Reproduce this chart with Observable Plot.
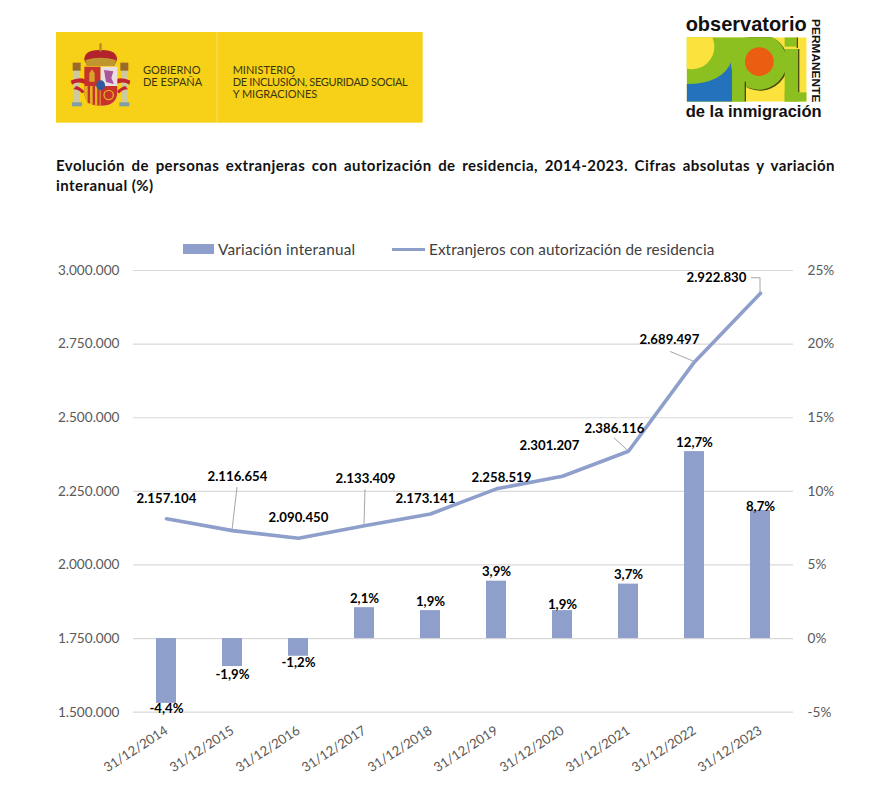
<!DOCTYPE html>
<html lang="es">
<head>
<meta charset="utf-8">
<script src="https://cdn.jsdelivr.net/npm/d3@7"></script>
<script src="https://cdn.jsdelivr.net/npm/@observablehq/plot@0.6"></script>
<style>
html,body{margin:0;padding:0;background:#fff}
body{width:887px;height:797px;overflow:hidden;position:relative;font-family:Lato,"Open Sans",sans-serif}
#head{position:relative;height:260px}
#head>*{position:absolute}
#title{left:56px;top:155px;width:779px;font-size:15px;line-height:20px;font-weight:700;color:#111;letter-spacing:.45px}
#title div{text-align:justify;text-align-last:justify}
#title div+div{text-align-last:left}
.lg{font-size:15.3px;color:#404040;top:240px;line-height:18px;white-space:nowrap;letter-spacing:.08px}
#chart svg{display:block}
</style>
</head>
<body>
<div id="head">
<svg style="left:40px;top:10px" width="400" height="125" viewBox="0 0 1200 375">
  <rect x="48" y="66" width="1100" height="272" fill="#f6d117"/>
  <rect x="529" y="66" width="4" height="272" fill="#f9dc55"/>
  <g>
    <rect x="102" y="175" width="16" height="112" fill="#cfc9a0"/>
    <rect x="245" y="175" width="16" height="112" fill="#cfc9a0"/>
    <rect x="98" y="158" width="24" height="24" fill="#9b6a2a"/>
    <rect x="241" y="158" width="24" height="24" fill="#9b6a2a"/>
    <rect x="96" y="277" width="30" height="12" fill="#7f9ea6"/>
    <rect x="238" y="277" width="30" height="12" fill="#7f9ea6"/>
    <path d="M92 212Q130 198 136 212L136 222Q112 212 96 224ZM108 228Q124 232 134 246L126 250Q116 238 100 238Z" fill="#c2262c"/>
    <path d="M271 212Q233 198 228 212L228 222Q252 212 268 224ZM256 228Q240 232 230 246L238 250Q248 238 264 238Z" fill="#c2262c"/>
    <path d="M133 150Q132 118 182 120Q232 118 231 150L222 168L142 168Z" fill="#b3232b"/>
    <path d="M136 150Q182 136 228 150L224 168L140 168Z" fill="#c0962f"/>
    <rect x="178" y="100" width="7" height="24" fill="#b58a2c"/>
    <path d="M133 170H182V287Q133 287 133 245Z" fill="#c8322d"/>
    <path d="M182 170H232V245Q232 287 182 287Z" fill="#e9dfe0"/>
    <path d="M133 228H182V287Q133 287 133 245Z" fill="#e3b11f"/>
    <path d="M143 228h7v52h-7zM158 228h7v56h-7zM172 228h7v58h-7z" fill="#c8322d"/>
    <path d="M182 228H232V245Q232 287 182 287Z" fill="#c8322d"/>
    <path d="M148 215V190L156 178L164 190V215Z" fill="#d8a32b"/>
    <path d="M192 180L220 184L214 204L222 222L198 216Z" fill="#a9549b"/>
    <circle cx="206" cy="255" r="14" fill="none" stroke="#e3b11f" stroke-width="4"/>
    <ellipse cx="182" cy="226" rx="13" ry="15" fill="#2f5a9e"/>
  </g>
  <g font-family="Lato,'Open Sans',sans-serif" fill="#3b3510" font-size="33">
    <text x="309" y="193">GOBIERNO</text>
    <text x="309" y="229">DE ESPAÑA</text>
    <text x="578" y="192">MINISTERIO</text>
    <text x="578" y="228" textLength="525">DE INCLUSIÓN, SEGURIDAD SOCIAL</text>
    <text x="578" y="264">Y MIGRACIONES</text>
  </g>
</svg>
<svg style="left:660px;top:5px" width="180" height="125" viewBox="0 0 540 375">
  <defs><clipPath id="lc"><rect x="80" y="97" width="360" height="193"/></clipPath></defs>
  <g clip-path="url(#lc)">
    <rect x="80" y="97" width="360" height="193" fill="#fbe23c"/>
    <rect x="80" y="97" width="175" height="193" fill="#8cc021"/>
    <circle cx="95" cy="125" r="68" fill="#fbe23c"/>
    <path d="M80 237Q190 237 216 165L216 290L80 290Z" fill="#2472bb"/>
    <circle cx="300" cy="173" r="84" fill="#4a4a12"/>
    <circle cx="296" cy="170" r="84" fill="#8cc021"/>
    <circle cx="298" cy="170" r="43" fill="#e95e10"/>
    <rect x="216" y="170" width="38" height="120" fill="#8cc021"/>
    <rect x="254" y="230" width="4" height="60" fill="#4a4a12"/>
    <rect x="374" y="132" width="40" height="158" fill="#8cc021"/>
    <rect x="374" y="262" width="66" height="28" fill="#8cc021"/>
    <rect x="374" y="97" width="36" height="28" fill="#8cc021"/>
    <rect x="410" y="97" width="4" height="32" fill="#4a4a12"/>
    <rect x="414" y="132" width="4" height="130" fill="#4a4a12"/>
  </g>
  <g font-family="'Liberation Sans',Arimo,sans-serif" fill="#111">
    <text x="77" y="77" font-size="61" font-weight="700" textLength="363" lengthAdjust="spacingAndGlyphs">observatorio</text>
    <text x="77" y="335" font-size="51" font-weight="700" textLength="408" lengthAdjust="spacingAndGlyphs">de la inmigración</text>
    <text transform="translate(456,42) rotate(90)" font-size="30" font-weight="700" textLength="250" lengthAdjust="spacingAndGlyphs">PERMANENTE</text>
  </g>
</svg>
<div id="title"><div>Evolución de personas extranjeras con autorización de residencia, 2014-2023. Cifras absolutas y variación</div><div>interanual (%)</div></div>
<div style="left:183px;top:244px;width:31px;height:10px;background:#8e9fcb"></div>
<div class="lg" style="left:218px;letter-spacing:.23px">Variación interanual</div>
<div style="left:392px;top:247.5px;width:33px;height:3.5px;background:#8e9fcb"></div>
<div class="lg" style="left:429px">Extranjeros con autorización de residencia</div>
</div>
<div id="chart"></div>
<script>
// Categories
const years = ["31/12/2014","31/12/2015","31/12/2016","31/12/2017","31/12/2018","31/12/2019","31/12/2020","31/12/2021","31/12/2022","31/12/2023"];
// Series values
const residents = [2157104,2116654,2090450,2133409,2173141,2258519,2301207,2386116,2689497,2922830];
const variation = [-4.4,-1.9,-1.2,2.1,1.9,3.9,1.9,3.7,12.7,8.7];
// Axis ticks
const leftTicks = [1500000,1750000,2000000,2250000,2500000,2750000,3000000];
const rightTicks = [-5,0,5,10,15,20,25];

// Label layout (pixel offsets from the data point)
const residentOffsets = [[0,-20],[5,-54],[0,-21],[1,-47],[-5,-15],[5,-11],[-13,-31],[-14,-23],[-25,-22],[-44,-15]];
const variationOffsets = [5,8,7,-9,-9,-9,-6,-9,-9,-4];
// Leader lines: index, then the pixel path relative to the data point
const leaders = [
  [1,[[0,0],[5,-43]]],
  [3,[[0,0],[1,-36]]],
  [7,[[0,0],[-14,-13]]],
  [8,[[0,0],[-24,-10]]],
  [9,[[0,0],[0,-15],[-9,-15]]]
];

const es = d3.formatLocale({decimal:",",thousands:".",grouping:[3],currency:["",""]});
const fmtN = es.format(",.0f");
const fmtP = es.format(".1f");
const pctToCount = d3.scaleLinear().domain([-5,25]).range([1500000,3000000]);

const rows = years.map((y,i)=>({y,i,count:residents[i],pct:variation[i],p:pctToCount(variation[i])}));
const zero = pctToCount(0);

const gray = "#595959", grid = "#d9d9d9", blue = "#8e9fcb";

const chart = Plot.plot({
  width: 887,
  height: 537,
  marginTop: 10,
  marginBottom: 85.3,
  marginLeft: 133,
  marginRight: 94,
  style: {fontFamily:"Lato,'Open Sans',sans-serif", background:"#fff", overflow:"visible"},
  x: {domain: years, paddingInner: 0.69, paddingOuter: 0.345, label: null},
  y: {domain: [1500000,3000000], range: [451.7,10], label: null},
  marks: [
    Plot.ruleY(leftTicks,{stroke:grid,strokeWidth:1.2}),
    Plot.axisY({ticks:leftTicks,tickFormat:d=>fmtN(d),tickSize:0,tickPadding:14,fontSize:13.6,label:null,fill:gray}),
    Plot.axisY({anchor:"right",ticks:rightTicks.map(d=>pctToCount(d)),tickFormat:d=>Math.round(pctToCount.invert(d))+"%",tickSize:0,tickPadding:14,fontSize:13.6,fill:gray,label:null}),
    Plot.axisX({tickSize:0,tickRotate:-33,tickPadding:17,fontSize:13.2,fill:gray,label:null}),
    Plot.barY(rows,{x:"y",y1:zero,y2:"p",fill:blue}),
    (index,{x,y})=>{
      const bw = x.bandwidth ? x.bandwidth()/2 : 0;
      const g = d3.create("svg:g").attr("fill","none").attr("stroke","#a6a6a6").attr("stroke-width",1);
      for (const [i,path] of leaders) {
        const px = x(years[i])+bw, py = y(residents[i]);
        g.append("path").attr("d",d3.line()(path.map(([a,b])=>[px+a,py+b])));
      }
      return g.node();
    },
    Plot.line(rows,{x:"y",y:"count",stroke:blue,strokeWidth:3.6,strokeLinejoin:"round",strokeLinecap:"round"}),
    ...rows.map((r,i)=>Plot.text([r],{x:"y",y:"count",text:d=>fmtN(d.count),dx:residentOffsets[i][0],dy:residentOffsets[i][1],fontSize:13.2,fontWeight:700,fill:"#000"})),
    ...rows.map((r,i)=>Plot.text([r],{x:"y",y:"p",text:d=>(d.pct<0?"-":"")+fmtP(Math.abs(d.pct))+"%",dy:variationOffsets[i],fontSize:13.2,fontWeight:700,fill:"#000"}))
  ]
});
document.getElementById("chart").append(chart);
</script>
</body>
</html>
